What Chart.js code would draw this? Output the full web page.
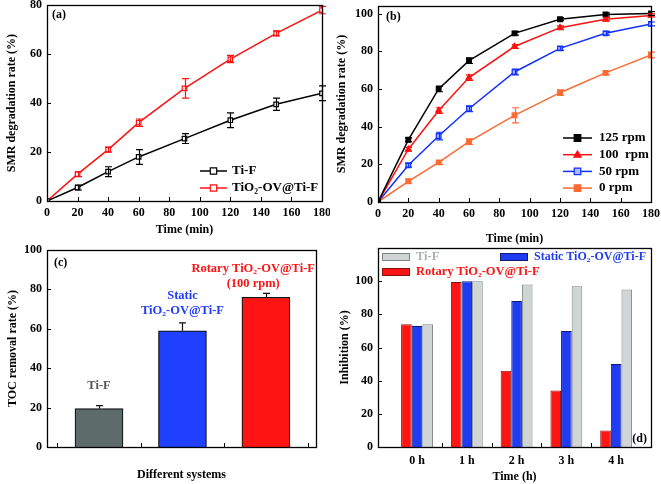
<!DOCTYPE html>
<html><head><meta charset="utf-8">
<script src="https://cdn.jsdelivr.net/npm/chart.js@4/dist/chart.umd.min.js"></script>
<style>
html,body{margin:0;padding:0;background:#fff}
body{width:661px;height:484px;position:relative;overflow:hidden}
canvas{position:absolute;display:block}
</style></head><body>
<canvas id="cb" width="331" height="250" style="left:330px;top:0;z-index:1"></canvas>
<canvas id="ca" width="330" height="240" style="left:0;top:0;z-index:2"></canvas>
<canvas id="cc" width="330" height="244" style="left:0;top:240px;z-index:2"></canvas>
<canvas id="cd" width="331" height="244" style="left:330px;top:240px;z-index:2"></canvas>
<script>
// ---------- DATA ----------
const timeMin = [0, 20, 40, 60, 90, 120, 150, 180];
const tiF = [0, 5.5, 12, 18, 25.5, 33, 39.5, 44];
const tiFErr = [0, 1, 2, 3, 2, 3, 2.5, 3];
const tiO2 = [0, 11, 21, 32, 46, 58, 68.5, 78];
const tiO2Err = [0, 1, 1, 1.5, 4, 1.5, 1, 1.5];

const rpm125 = [0, 33, 60, 75, 89.5, 97, 99.5, 100];
const rpm125Err = [0, 1, 1.5, 1.5, 1, 0.8, 0.8, 1];
const rpm100 = [0, 28, 48.5, 66, 82.5, 92.5, 97, 99];
const rpm100Err = [0, 1, 1.5, 1.5, 1, 1, 1, 0.8];
const rpm50 = [0, 19.5, 35, 49.5, 69, 81.5, 89.5, 94.5];
const rpm50Err = [0, 1, 2, 1.5, 1.5, 1, 1, 1];
const rpm0 = [0, 11, 21, 32, 46, 58, 68.5, 78];
const rpm0Err = [0, 1, 1, 1.5, 4, 1.5, 1, 1.5];

const tocSystems = ['Ti-F', 'Static\nTiO\u2082-OV@Ti-F', 'Rotary TiO\u2082-OV@Ti-F\n(100 rpm)'];
const tocValues = [19.5, 59, 76];
const tocErr = [1.5, 4, 2];

const hours = ['0 h', '1 h', '2 h', '3 h', '4 h'];
const inhRotary = [74, 99.5, 46, 34, 10];
const inhStatic = [73, 100, 88, 70, 50];
const inhTiF = [74, 100, 98, 97, 95];

// ---------- STYLE ----------
const FAM = "'Liberation Serif','Times New Roman',serif";
Chart.defaults.font.family = FAM;
Chart.defaults.font.weight = 'bold';
Chart.defaults.font.size = 12;
Chart.defaults.color = '#000';
Chart.defaults.animation = false;
Chart.defaults.devicePixelRatio = 1;

function xy(xs, ys) { return xs.map((x, i) => ({x: x, y: ys[i]})); }

function marker(ctx, style, x, y, r, fill, stroke, lw) {
  ctx.beginPath();
  if (style === 'triangle') {
    ctx.moveTo(x, y - r * 1.15);
    ctx.lineTo(x + r * 1.1, y + r * 0.75);
    ctx.lineTo(x - r * 1.1, y + r * 0.75);
    ctx.closePath();
  } else {
    ctx.rect(x - r, y - r, 2 * r, 2 * r);
  }
  ctx.fillStyle = fill; ctx.fill();
  ctx.lineWidth = lw || 1.2; ctx.strokeStyle = stroke; ctx.stroke();
}

function framePlugin(opt) {
  return {
    id: 'frame',
    afterDraw(chart) {
      const ctx = chart.ctx, a = chart.chartArea;
      const xs = chart.scales.x, ys = chart.scales.y;
      ctx.save();
      ctx.strokeStyle = '#000';
      ctx.lineWidth = 1;
      const xv = opt.xTicks || xs.ticks.map(t => t.value);
      const yv = opt.yTicks || ys.ticks.map(t => t.value);
      ctx.beginPath();
      xv.forEach(v => { const p = Math.round(xs.getPixelForValue(v)) + 0.5; ctx.moveTo(p, a.bottom); ctx.lineTo(p, a.bottom - 4); });
      yv.forEach(v => { const p = Math.round(ys.getPixelForValue(v)) + 0.5; ctx.moveTo(a.left, p); ctx.lineTo(a.left + 4, p); });
      ctx.stroke();
      ctx.lineWidth = 1.3;
      ctx.strokeRect(Math.round(a.left) + 0.5, Math.round(a.top) + 0.5, Math.round(a.right - a.left), Math.round(a.bottom - a.top));
      (opt.texts || []).forEach(t => {
        ctx.font = 'bold ' + (t.size || 12) + 'px ' + FAM;
        ctx.fillStyle = t.color || '#000';
        ctx.textAlign = t.align || 'left';
        ctx.textBaseline = 'middle';
        ctx.fillText(t.t, t.x, t.y);
      });
      ctx.restore();
    }
  };
}

function errPlugin(errs, upOnly) {
  return {
    id: 'errbars',
    afterDatasetsDraw(chart) {
      const ctx = chart.ctx, ys = chart.scales.y;
      errs.forEach((arr, di) => {
        if (!arr) return;
        const ds = chart.data.datasets[di];
        const meta = chart.getDatasetMeta(di);
        ctx.save();
        ctx.strokeStyle = ds.errColor || ds.borderColor;
        ctx.lineWidth = 1.2;
        meta.data.forEach((el, i) => {
          const e = arr[i]; if (!e) return;
          const v = ds.data[i].y;
          const yt = ys.getPixelForValue(v + e);
          const yb = upOnly ? el.y : ys.getPixelForValue(v - e);
          const x = Math.round(el.x) + 0.5, c = 3.5;
          ctx.beginPath();
          ctx.moveTo(x, yt); ctx.lineTo(x, yb);
          ctx.moveTo(x - c, yt); ctx.lineTo(x + c, yt);
          if (!upOnly) { ctx.moveTo(x - c, yb); ctx.lineTo(x + c, yb); }
          ctx.stroke();
        });
        ctx.restore();
      });
    }
  };
}

function lineLegendPlugin(o) {
  return {
    id: 'lineLegend',
    afterDraw(chart) {
      const ctx = chart.ctx;
      chart.data.datasets.forEach((ds, i) => {
        const y = o.y0 + i * o.dy;
        ctx.save();
        ctx.strokeStyle = ds.borderColor; ctx.lineWidth = ds.borderWidth;
        ctx.beginPath(); ctx.moveTo(o.x1, y); ctx.lineTo(o.x2, y); ctx.stroke();
        marker(ctx, ds.pointStyle, (o.x1 + o.x2) / 2, y, ds.pointRadius, ds.pointBackgroundColor, ds.pointBorderColor, 1.2);
        ctx.fillStyle = '#000';
        ctx.font = 'bold ' + o.size + 'px ' + FAM;
        ctx.textBaseline = 'middle'; ctx.textAlign = 'left';
        ctx.fillText(ds.label, o.tx, y);
        ctx.restore();
      });
    }
  };
}

function fixAxis(size, isY) {
  return function (s) {
    if (isY) s.width = size; else s.height = size;
    s.paddingTop = 0; s.paddingBottom = 0; s.paddingLeft = 0; s.paddingRight = 0;
  };
}

function stepTicks(arr) { return function (s) { s.ticks = arr.map(v => ({value: v})); }; }

function lineDs(label, data, color, style, bg, r) {
  return {label: label, data: data, borderColor: color, borderWidth: 1.5, pointStyle: style,
    pointRadius: r || 3.5, pointBackgroundColor: bg, pointBorderColor: color, pointBorderWidth: 1.2, tension: 0};
}

const TF = 12; // tick font size

// ---------- PANEL A ----------
new Chart(document.getElementById('ca'), {
  type: 'line',
  data: {datasets: [
    lineDs('Ti-F', xy(timeMin, tiF), '#000000', 'rect', '#ffffff', 3.2),
    lineDs('TiO\u2082-OV@Ti-F', xy(timeMin, tiO2), '#ff1010', 'rect', '#ffffff', 3.2)
  ]},
  options: {
    responsive: false, layout: {padding: {top: 5, right: 8, left: 0, bottom: 0}},
    plugins: {legend: {display: false}, tooltip: {enabled: false}},
    scales: {
      x: {type: 'linear', min: 0, max: 180, afterBuildTicks: stepTicks([0,20,40,60,80,100,120,140,160,180]),
        grid: {display: false, drawTicks: false}, border: {display: false},
        ticks: {padding: 5, font: {size: TF}},
        title: {display: true, text: 'Time (min)', font: {size: 12}, padding: {top: 0, bottom: 3}},
        afterFit: fixAxis(39, false)},
      y: {min: 0, max: 80, afterBuildTicks: stepTicks([0,20,40,60,80]),
        grid: {display: false, drawTicks: false}, border: {display: false},
        ticks: {padding: 5, font: {size: TF}},
        title: {display: true, text: 'SMR degradation rate (%)', font: {size: 12}, padding: {top: 5, bottom: 0}},
        afterFit: fixAxis(47, true)}
    }
  },
  plugins: [errPlugin([tiFErr, tiO2Err], false), framePlugin({texts: [{t: '(a)', x: 52, y: 15}]}),
    lineLegendPlugin({x1: 200, x2: 227, tx: 232, y0: 171, dy: 17, size: 13})]
});

// ---------- PANEL B ----------
new Chart(document.getElementById('cb'), {
  type: 'line',
  data: {datasets: [
    lineDs('125 rpm', xy(timeMin, rpm125), '#000000', 'rect', '#000000', 3.3),
    lineDs('100  rpm', xy(timeMin, rpm100), '#ff1010', 'triangle', '#ff1010', 3.3),
    lineDs('50 rpm', xy(timeMin, rpm50), '#1030ff', 'rect', '#a9b8ff', 3.3),
    lineDs('0 rpm', xy(timeMin, rpm0), '#ff6a33', 'rect', '#ff6a33', 3.3)
  ]},
  options: {
    responsive: false, layout: {padding: {top: 6, right: 10, left: 0, bottom: 0}},
    plugins: {legend: {display: false}, tooltip: {enabled: false}},
    scales: {
      x: {type: 'linear', min: 0, max: 180, afterBuildTicks: stepTicks([0,20,40,60,80,100,120,140,160,180]),
        grid: {display: false, drawTicks: false}, border: {display: false},
        ticks: {padding: 5, font: {size: TF}},
        title: {display: true, text: 'Time (min)', font: {size: 12}, padding: {top: 0, bottom: 4}},
        afterFit: fixAxis(48, false)},
      y: {min: 0, max: 104, afterBuildTicks: stepTicks([0,20,40,60,80,100]),
        grid: {display: false, drawTicks: false}, border: {display: false},
        ticks: {padding: 5, font: {size: TF}},
        title: {display: true, text: 'SMR degradation rate (%)', font: {size: 12}, padding: {top: 5, bottom: 0}},
        afterFit: fixAxis(48, true)}
    }
  },
  plugins: [errPlugin([rpm125Err, rpm100Err, rpm50Err, rpm0Err], false), framePlugin({texts: [{t: '(b)', x: 56, y: 17}]}),
    lineLegendPlugin({x1: 233, x2: 262, tx: 269, y0: 138, dy: 16.7, size: 13})]
});

// ---------- PANEL C ----------
const tocColors = ['#5e6b6b', '#2040ff', '#ff1414'];
const tocTextColors = ['#555555', '#1f3cff', '#ff1414'];
const tocGaps = [20, 12, 10];
new Chart(document.getElementById('cc'), {
  type: 'bar',
  data: {datasets: [{label: 'TOC', data: tocValues.map((v, i) => ({x: i + 1, y: v})),
    backgroundColor: tocColors, borderColor: '#111', borderWidth: 1.2, barThickness: 48, errColor: '#111'}]},
  options: {
    responsive: false, layout: {padding: {top: 10, right: 14, left: 0, bottom: 0}},
    plugins: {legend: {display: false}, tooltip: {enabled: false}},
    scales: {
      x: {type: 'linear', offset: false, min: 0.377, max: 3.6, afterBuildTicks: stepTicks([0.5, 1.5, 2.5, 3.5]),
        grid: {display: false, drawTicks: false, offset: false}, border: {display: false},
        ticks: {display: false},
        title: {display: true, text: 'Different systems', font: {size: 12}, padding: {top: 0, bottom: 2}},
        afterFit: fixAxis(37, false)},
      y: {min: 0, max: 100, afterBuildTicks: stepTicks([0,20,40,60,80,100]),
        grid: {display: false, drawTicks: false}, border: {display: false},
        ticks: {padding: 5, font: {size: TF}},
        title: {display: true, text: 'TOC removal rate (%)', font: {size: 12}, padding: {top: 6, bottom: 0}},
        afterFit: fixAxis(47, true)}
    }
  },
  plugins: [errPlugin([tocErr], true), framePlugin({texts: [{t: '(c)', x: 54, y: 23}]}), {
    id: 'barLabels',
    afterDatasetsDraw(chart) {
      const ctx = chart.ctx, ys = chart.scales.y, a = chart.chartArea;
      const meta = chart.getDatasetMeta(0);
      ctx.save();
      ctx.font = 'bold 12.5px ' + FAM;
      ctx.textBaseline = 'middle'; ctx.textAlign = 'center';
      meta.data.forEach((el, i) => {
        const lines = tocSystems[i].split('\n');
        const top = ys.getPixelForValue(tocValues[i] + tocErr[i]);
        const w = Math.max(...lines.map(l => ctx.measureText(l).width));
        let x = el.x;
        if (x + w / 2 > a.right - 1) x = a.right - 1 - w / 2;
        ctx.fillStyle = tocTextColors[i];
        lines.forEach((l, k) => {
          const y = top - tocGaps[i] - (lines.length - 1 - k) * 15;
          ctx.fillText(l, x, y);
        });
      });
      ctx.restore();
    }
  }]
});

// ---------- PANEL D ----------
const dSeries = [
  {label: 'Rotary TiO\u2082-OV@Ti-F', data: inhRotary, bg: '#ff1414', bd: '#8a1010', text: '#ff1414'},
  {label: 'Static TiO\u2082-OV@Ti-F', data: inhStatic, bg: '#1f3cf0', bd: '#101a70', text: '#1f3cf0'},
  {label: 'Ti-F', data: inhTiF, bg: '#cfd4d4', bd: '#7c8484', text: '#a9b1b1'}
];
const legendPos = [{x: 52, y: 32, s: 12.5}, {x: 170, y: 17, s: 12}, {x: 52, y: 17, s: 12.5}];
new Chart(document.getElementById('cd'), {
  type: 'bar',
  data: {datasets: dSeries.map(s => ({label: s.label, data: s.data.map((v, i) => ({x: i, y: v})),
    backgroundColor: s.bg, borderColor: s.bd, borderWidth: 1, categoryPercentage: 0.64, barPercentage: 1, textColor: s.text}))},
  options: {
    responsive: false, layout: {padding: {top: 8, right: 10, left: 0, bottom: 0}},
    plugins: {legend: {display: false}, tooltip: {enabled: false}},
    scales: {
      x: {type: 'linear', offset: false, min: -0.784, max: 4.7, afterBuildTicks: stepTicks([0, 1, 2, 3, 4]),
        grid: {display: false, drawTicks: false, offset: false}, border: {display: false},
        ticks: {padding: 7, font: {size: TF}, callback: v => hours[v]},
        title: {display: true, text: 'Time (h)', font: {size: 12}, padding: {top: 0, bottom: 0}},
        afterFit: fixAxis(37, false)},
      y: {min: 0, max: 120, afterBuildTicks: stepTicks([0,20,40,60,80,100]),
        grid: {display: false, drawTicks: false}, border: {display: false},
        ticks: {padding: 5, font: {size: TF}},
        title: {display: true, text: 'Inhibition (%)', font: {size: 12}, padding: {top: 8, bottom: 0}},
        afterFit: fixAxis(48, true)}
    }
  },
  plugins: [framePlugin({xTicks: [0.5, 1.5, 2.5, 3.5], texts: [{t: '(d)', x: 317, y: 199, align: 'right'}]}), {
    id: 'boxLegend',
    afterDraw(chart) {
      const ctx = chart.ctx;
      ctx.save();
      ctx.textBaseline = 'middle'; ctx.textAlign = 'left';
      chart.data.datasets.forEach((ds, i) => {
        const p = legendPos[i];
        ctx.fillStyle = ds.backgroundColor; ctx.strokeStyle = ds.borderColor; ctx.lineWidth = 1;
        ctx.fillRect(p.x, p.y - 3.5, 28, 7); ctx.strokeRect(p.x + 0.5, p.y - 3.5, 27, 7);
        ctx.font = 'bold ' + p.s + 'px ' + FAM;
        ctx.fillStyle = ds.textColor;
        ctx.fillText(ds.label, p.x + 34, p.y);
      });
      ctx.restore();
    }
  }]
});
</script>
</body></html>
